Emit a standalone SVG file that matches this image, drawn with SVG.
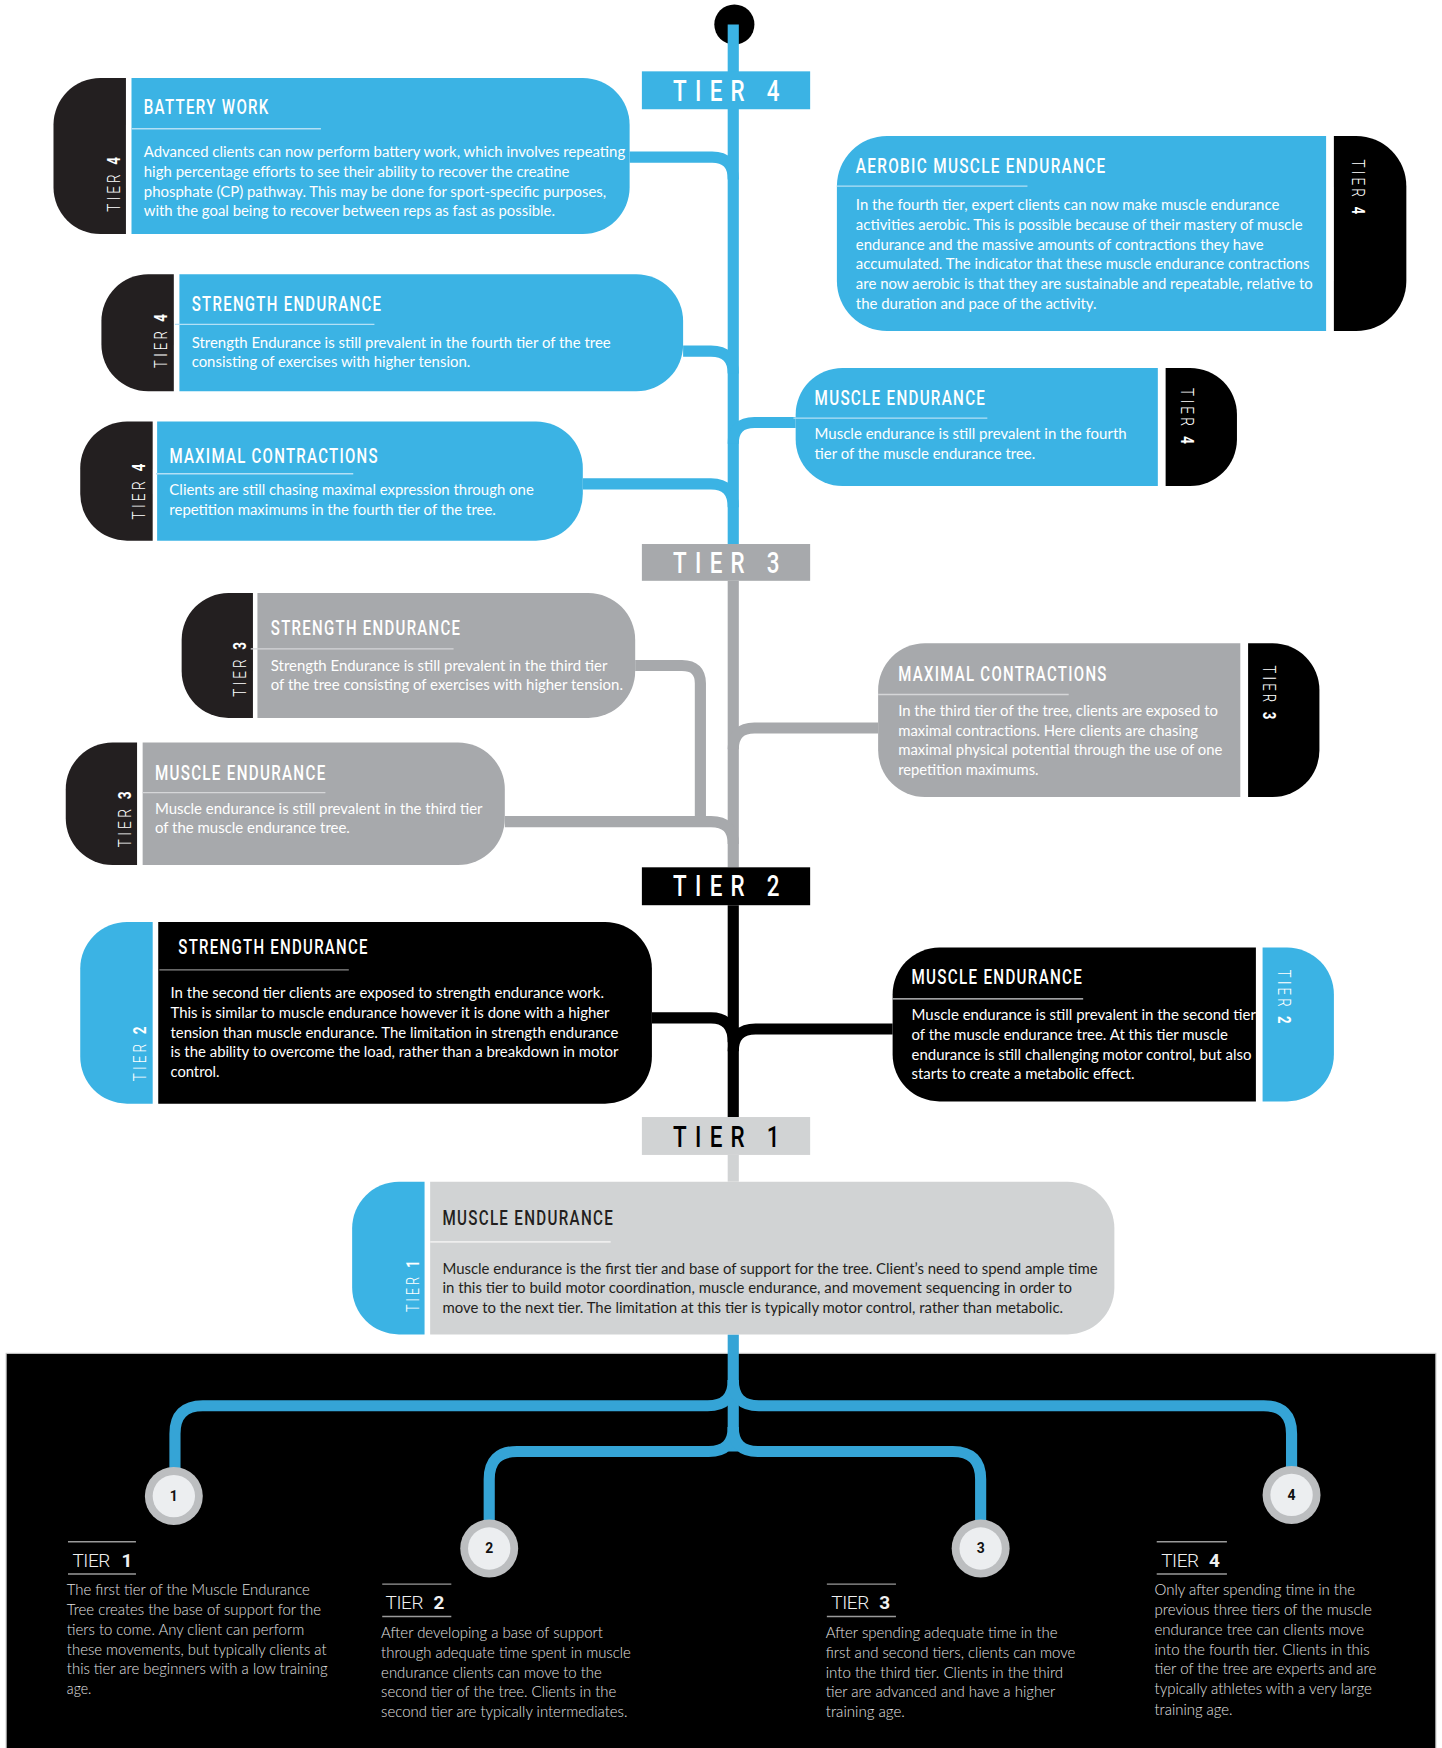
<svg xmlns="http://www.w3.org/2000/svg" width="1442" height="1748" viewBox="0 0 1442 1748">
<defs>
<style>
.title{font-family:Roboto,"DejaVu Sans Condensed",sans-serif;font-weight:500;font-size:17.5px;letter-spacing:1.5px;fill:#fff}
.title.dk{fill:#231f20}
.body{font-family:Lato,"Noto Sans",sans-serif;font-size:13px;fill:#fff}
.body.dk{fill:#231f20}
.tab{font-family:Roboto,"DejaVu Sans",sans-serif;font-weight:300;font-size:17px;letter-spacing:4px;fill:#fff}
.n{font-weight:700}
.tier{font-family:Roboto,"DejaVu Sans Condensed",sans-serif;font-weight:500;font-size:27px;letter-spacing:10px}
.lh{font-family:Roboto,"DejaVu Sans",sans-serif;font-weight:300;font-size:17px;fill:#f0f0f0}
.lhn{font-family:Roboto,"DejaVu Sans",sans-serif;font-weight:700;font-size:17px;fill:#f0f0f0}
.lb{font-family:Lato,"Noto Sans",sans-serif;font-weight:300;font-size:14.5px;fill:#e2e2e2}
.num{font-family:Roboto,"DejaVu Sans",sans-serif;font-weight:700;font-size:12.5px;fill:#111;text-anchor:middle}
.c{fill:none;stroke-width:10}
.blue{fill:#3bb3e4}
.gray{fill:#a7a9ac}
.lgray{fill:#d1d3d4}
.tabk{fill:#231f20}
.blk{fill:#000}
.ulb{stroke:#b3e0f5;stroke-width:1.2}
.ulg{stroke:#d5d6d8;stroke-width:1.2}
.ulk{stroke:#8a8a8a;stroke-width:1.2}
.ull{stroke:#eeeeee;stroke-width:1.5}
.legl{stroke:#9a9a9a;stroke-width:1.3}
.ring{fill:#bcbec0}
.disc{fill:#eceef0}
</style>
</defs>
<rect x="0" y="0" width="1442" height="1748" fill="#fff"/>
<g transform="scale(1.114374,1.114796)">

<g id="background">
<rect x="5.5" y="1214" width="1283" height="360" fill="#000" stroke="#c8c8c8" stroke-width="1"/>
</g>

<g id="connectors">
<circle cx="659" cy="22" r="18" fill="#000"/>
<path class="c" stroke="#3bb3e4" d="M658,22 V488"/>
<path class="c" stroke="#a7a9ac" d="M658,521 V778"/>
<path class="c" stroke="#000" d="M658,812 V1002"/>
<path class="c" stroke="#d1d3d4" d="M658,1036 V1060"/>
<path class="c" stroke="#35a4d6" d="M658,1197 V1302"/>
<path class="c" stroke="#3bb3e4" d="M565,141 H639 Q658,141 658,161"/>
<path class="c" stroke="#3bb3e4" d="M613,315 H638 Q658,315 658,335"/>
<path class="c" stroke="#3bb3e4" d="M658,398 Q658,379 677,379 H714"/>
<path class="c" stroke="#3bb3e4" d="M523,434 H638 Q658,434 658,455"/>
<path class="c" stroke="#a7a9ac" d="M570,597 H612 Q628.5,597 628.5,613 V737"/>
<path class="c" stroke="#a7a9ac" d="M453,737 H638 Q658,737 658,757"/>
<path class="c" stroke="#a7a9ac" d="M658,672 Q658,653 677,653 H788"/>
<path class="c" stroke="#000" d="M585,913 H638 Q658,913 658,935"/>
<path class="c" stroke="#000" d="M658,943 Q658,923 678,923 H801"/>
<path class="c" stroke="#35a4d6" stroke-width="9.5" d="M658,1238 Q658,1261 635,1261 H182 Q157,1261 157,1286 V1320"/>
<path class="c" stroke="#35a4d6" stroke-width="9.5" d="M658,1238 Q658,1261 681,1261 H1134 Q1159,1261 1159,1286 V1320"/>
<path class="c" stroke="#35a4d6" stroke-width="9.5" d="M658,1280 Q658,1302 636,1302 H464 Q439,1302 439,1327 V1367"/>
<path class="c" stroke="#35a4d6" stroke-width="9.5" d="M658,1280 Q658,1302 680,1302 H855 Q880,1302 880,1327 V1367"/>
</g>

<g id="tier4-label"><rect x="576" y="64" width="151" height="34" class="blue"/><text class="tier" x="604" y="91" fill="#fff" textLength="103" lengthAdjust="spacingAndGlyphs">TIER 4</text></g>
<g id="tier3-label"><rect x="576" y="488" width="151" height="33" class="gray"/><text class="tier" x="604" y="514" fill="#fff" textLength="103" lengthAdjust="spacingAndGlyphs">TIER 3</text></g>
<g id="tier2-label"><rect x="576" y="778" width="151" height="34" class="blk"/><text class="tier" x="604" y="804" fill="#fff" textLength="103" lengthAdjust="spacingAndGlyphs">TIER 2</text></g>
<g id="tier1-label"><rect x="576" y="1002" width="151" height="34" class="lgray"/><text class="tier" x="604" y="1029" fill="#000" textLength="103" lengthAdjust="spacingAndGlyphs">TIER 1</text></g>

<g id="node-battery-work">
<path class="tabk" d="M113,70 V210 H90 A42,42 0 0 1 48,168 V112 A42,42 0 0 1 90,70 Z"/>
<path class="blue" d="M118,70 H523 A42,42 0 0 1 565,112 V168 A42,42 0 0 1 523,210 H118 Z"/>
<text class="tab" transform="translate(108,190) rotate(-90)" textLength="52" lengthAdjust="spacingAndGlyphs">TIER <tspan class="n">4</tspan></text>
<text class="title" x="129" y="102" textLength="113" lengthAdjust="spacingAndGlyphs">BATTERY WORK</text>
<line class="ulb" x1="118" y1="115.5" x2="288" y2="115.5"/>
<text class="body" x="129" y="141" textLength="432" lengthAdjust="spacingAndGlyphs">Advanced clients can now perform battery work, which involves repeating</text>
<text class="body" x="129" y="159" textLength="382" lengthAdjust="spacingAndGlyphs">high percentage efforts to see their ability to recover the creatine</text>
<text class="body" x="129" y="177" textLength="415" lengthAdjust="spacingAndGlyphs">phosphate (CP) pathway. This may be done for sport-specific purposes,</text>
<text class="body" x="129" y="194" textLength="369" lengthAdjust="spacingAndGlyphs">with the goal being to recover between reps as fast as possible.</text>
</g>

<g id="node-aerobic-muscle-endurance">
<path class="blue" d="M1190,122 V297 H796 A45,45 0 0 1 751,252 V167 A45,45 0 0 1 796,122 Z"/>
<path class="blk" d="M1197,122 H1217 A45,45 0 0 1 1262,167 V252 A45,45 0 0 1 1217,297 H1197 Z"/>
<text class="tab" transform="translate(1213,143) rotate(90)" textLength="52" lengthAdjust="spacingAndGlyphs">TIER <tspan class="n">4</tspan></text>
<text class="title" x="768" y="155" textLength="225" lengthAdjust="spacingAndGlyphs">AEROBIC MUSCLE ENDURANCE</text>
<line class="ulb" x1="751" y1="167" x2="922" y2="167"/>
<text class="body" x="768" y="188" textLength="380" lengthAdjust="spacingAndGlyphs">In the fourth tier, expert clients can now make muscle endurance</text>
<text class="body" x="768" y="206" textLength="401" lengthAdjust="spacingAndGlyphs">activities aerobic. This is possible because of their mastery of muscle</text>
<text class="body" x="768" y="224" textLength="366" lengthAdjust="spacingAndGlyphs">endurance and the massive amounts of contractions they have</text>
<text class="body" x="768" y="241" textLength="407" lengthAdjust="spacingAndGlyphs">accumulated. The indicator that these muscle endurance contractions</text>
<text class="body" x="768" y="259" textLength="410" lengthAdjust="spacingAndGlyphs">are now aerobic is that they are sustainable and repeatable, relative to</text>
<text class="body" x="768" y="277" textLength="216" lengthAdjust="spacingAndGlyphs">the duration and pace of the activity.</text>
</g>

<g id="node-strength-endurance-t4">
<path class="tabk" d="M156,246 V351 H133 A42,42 0 0 1 91,309 V288 A42,42 0 0 1 133,246 Z"/>
<path class="blue" d="M161,246 H571 A42,42 0 0 1 613,288 V309 A42,42 0 0 1 571,351 H161 Z"/>
<text class="tab" transform="translate(150,330) rotate(-90)" textLength="51" lengthAdjust="spacingAndGlyphs">TIER <tspan class="n">4</tspan></text>
<text class="title" x="172" y="279" textLength="171" lengthAdjust="spacingAndGlyphs">STRENGTH ENDURANCE</text>
<line class="ulb" x1="157" y1="291" x2="336" y2="291"/>
<text class="body" x="172" y="312" textLength="376" lengthAdjust="spacingAndGlyphs">Strength Endurance is still prevalent in the fourth tier of the tree</text>
<text class="body" x="172" y="329" textLength="250" lengthAdjust="spacingAndGlyphs">consisting of exercises with higher tension.</text>
</g>

<g id="node-muscle-endurance-t4">
<path class="blue" d="M1039,330 V436 H756 A42,42 0 0 1 714,394 V372 A42,42 0 0 1 756,330 Z"/>
<path class="blk" d="M1046,330 H1068 A42,42 0 0 1 1110,372 V394 A42,42 0 0 1 1068,436 H1046 Z"/>
<text class="tab" transform="translate(1060,348) rotate(90)" textLength="53" lengthAdjust="spacingAndGlyphs">TIER <tspan class="n">4</tspan></text>
<text class="title" x="731" y="363" textLength="154" lengthAdjust="spacingAndGlyphs">MUSCLE ENDURANCE</text>
<line class="ulb" x1="712" y1="375" x2="886" y2="375"/>
<text class="body" x="731" y="394" textLength="280" lengthAdjust="spacingAndGlyphs">Muscle endurance is still prevalent in the fourth</text>
<text class="body" x="731" y="412" textLength="198" lengthAdjust="spacingAndGlyphs">tier of the muscle endurance tree.</text>
</g>

<g id="node-maximal-contractions-t4">
<path class="tabk" d="M137,378 V485 H114 A42,42 0 0 1 72,443 V420 A42,42 0 0 1 114,378 Z"/>
<path class="blue" d="M141,378 H481 A42,42 0 0 1 523,420 V443 A42,42 0 0 1 481,485 H141 Z"/>
<text class="tab" transform="translate(130,466) rotate(-90)" textLength="53" lengthAdjust="spacingAndGlyphs">TIER <tspan class="n">4</tspan></text>
<text class="title" x="152" y="415" textLength="188" lengthAdjust="spacingAndGlyphs">MAXIMAL CONTRACTIONS</text>
<line class="ulb" x1="140" y1="425" x2="317" y2="425"/>
<text class="body" x="152" y="444" textLength="327" lengthAdjust="spacingAndGlyphs">Clients are still chasing maximal expression through one</text>
<text class="body" x="152" y="462" textLength="293" lengthAdjust="spacingAndGlyphs">repetition maximums in the fourth tier of the tree.</text>
</g>

<g id="node-strength-endurance-t3">
<path class="tabk" d="M227,532 V644 H205 A42,42 0 0 1 163,602 V574 A42,42 0 0 1 205,532 Z"/>
<path class="gray" d="M231,532 H528 A42,42 0 0 1 570,574 V602 A42,42 0 0 1 528,644 H231 Z"/>
<text class="tab" transform="translate(221,625) rotate(-90)" textLength="52" lengthAdjust="spacingAndGlyphs">TIER <tspan class="n">3</tspan></text>
<text class="title" x="243" y="570" textLength="171" lengthAdjust="spacingAndGlyphs">STRENGTH ENDURANCE</text>
<line class="ulg" x1="225" y1="582" x2="407" y2="582"/>
<text class="body" x="243" y="602" textLength="302" lengthAdjust="spacingAndGlyphs">Strength Endurance is still prevalent in the third tier</text>
<text class="body" x="243" y="619" textLength="316" lengthAdjust="spacingAndGlyphs">of the tree consisting of exercises with higher tension.</text>
</g>

<g id="node-muscle-endurance-t3">
<path class="tabk" d="M123,666 V776 H101 A42,42 0 0 1 59,734 V708 A42,42 0 0 1 101,666 Z"/>
<path class="gray" d="M128,666 H411 A42,42 0 0 1 453,708 V734 A42,42 0 0 1 411,776 H128 Z"/>
<text class="tab" transform="translate(118,760) rotate(-90)" textLength="53" lengthAdjust="spacingAndGlyphs">TIER <tspan class="n">3</tspan></text>
<text class="title" x="139" y="700" textLength="154" lengthAdjust="spacingAndGlyphs">MUSCLE ENDURANCE</text>
<line class="ulg" x1="128" y1="711" x2="292" y2="711"/>
<text class="body" x="139" y="730" textLength="294" lengthAdjust="spacingAndGlyphs">Muscle endurance is still prevalent in the third tier</text>
<text class="body" x="139" y="747" textLength="175" lengthAdjust="spacingAndGlyphs">of the muscle endurance tree.</text>
</g>

<g id="node-maximal-contractions-t3">
<path class="gray" d="M1113,577 V715 H830 A42,42 0 0 1 788,673 V619 A42,42 0 0 1 830,577 Z"/>
<path class="blk" d="M1120,577 H1142 A42,42 0 0 1 1184,619 V673 A42,42 0 0 1 1142,715 H1120 Z"/>
<text class="tab" transform="translate(1133,597) rotate(90)" textLength="51" lengthAdjust="spacingAndGlyphs">TIER <tspan class="n">3</tspan></text>
<text class="title" x="806" y="611" textLength="188" lengthAdjust="spacingAndGlyphs">MAXIMAL CONTRACTIONS</text>
<line class="ulg" x1="788" y1="623" x2="959" y2="623"/>
<text class="body" x="806" y="642" textLength="287" lengthAdjust="spacingAndGlyphs">In the third tier of the tree, clients are exposed to</text>
<text class="body" x="806" y="660" textLength="269" lengthAdjust="spacingAndGlyphs">maximal contractions. Here clients are chasing</text>
<text class="body" x="806" y="677" textLength="291" lengthAdjust="spacingAndGlyphs">maximal physical potential through the use of one</text>
<text class="body" x="806" y="695" textLength="126" lengthAdjust="spacingAndGlyphs">repetition maximums.</text>
</g>

<g id="node-strength-endurance-t2">
<path class="blue" d="M137,827 V990 H114 A42,42 0 0 1 72,948 V869 A42,42 0 0 1 114,827 Z"/>
<path class="blk" d="M142,827 H543 A42,42 0 0 1 585,869 V948 A42,42 0 0 1 543,990 H142 Z"/>
<text class="tab" transform="translate(131,970) rotate(-90)" textLength="52" lengthAdjust="spacingAndGlyphs">TIER <tspan class="n">2</tspan></text>
<text class="title" x="160" y="856" textLength="171" lengthAdjust="spacingAndGlyphs">STRENGTH ENDURANCE</text>
<line class="ulk" x1="143" y1="870" x2="313" y2="870"/>
<text class="body" x="153" y="895" textLength="389" lengthAdjust="spacingAndGlyphs">In the second tier clients are exposed to strength endurance work.</text>
<text class="body" x="153" y="913" textLength="394" lengthAdjust="spacingAndGlyphs">This is similar to muscle endurance however it is done with a higher</text>
<text class="body" x="153" y="931" textLength="402" lengthAdjust="spacingAndGlyphs">tension than muscle endurance. The limitation in strength endurance</text>
<text class="body" x="153" y="948" textLength="402" lengthAdjust="spacingAndGlyphs">is the ability to overcome the load, rather than a breakdown in motor</text>
<text class="body" x="153" y="966" textLength="44" lengthAdjust="spacingAndGlyphs">control.</text>
</g>

<g id="node-muscle-endurance-t2">
<path class="blk" d="M1127,850 V988 H843 A42,42 0 0 1 801,946 V892 A42,42 0 0 1 843,850 Z"/>
<path class="blue" d="M1133,850 H1155 A42,42 0 0 1 1197,892 V946 A42,42 0 0 1 1155,988 H1133 Z"/>
<text class="tab" transform="translate(1147,870) rotate(90)" textLength="51" lengthAdjust="spacingAndGlyphs">TIER <tspan class="n">2</tspan></text>
<text class="title" x="818" y="883" textLength="154" lengthAdjust="spacingAndGlyphs">MUSCLE ENDURANCE</text>
<line class="ulg" x1="801" y1="896" x2="972" y2="896"/>
<text class="body" x="818" y="915" textLength="309" lengthAdjust="spacingAndGlyphs">Muscle endurance is still prevalent in the second tier</text>
<text class="body" x="818" y="933" textLength="284" lengthAdjust="spacingAndGlyphs">of the muscle endurance tree. At this tier muscle</text>
<text class="body" x="818" y="951" textLength="305" lengthAdjust="spacingAndGlyphs">endurance is still challenging motor control, but also</text>
<text class="body" x="818" y="968" textLength="200" lengthAdjust="spacingAndGlyphs">starts to create a metabolic effect.</text>
</g>

<g id="node-muscle-endurance-t1">
<path class="blue" d="M381,1060 V1197 H358 A42,42 0 0 1 316,1155 V1102 A42,42 0 0 1 358,1060 Z"/>
<path class="lgray" d="M386,1060 H958 A42,42 0 0 1 1000,1102 V1155 A42,42 0 0 1 958,1197 H386 Z"/>
<text class="tab" transform="translate(376,1177) rotate(-90)" textLength="49" lengthAdjust="spacingAndGlyphs">TIER <tspan class="n">1</tspan></text>
<text class="title dk" x="397" y="1099" textLength="154" lengthAdjust="spacingAndGlyphs">MUSCLE ENDURANCE</text>
<line class="ull" x1="386" y1="1114" x2="548" y2="1114"/>
<text class="body dk" x="397" y="1143" textLength="588" lengthAdjust="spacingAndGlyphs">Muscle endurance is the first tier and base of support for the tree. Client’s need to spend ample time</text>
<text class="body dk" x="397" y="1160" textLength="565" lengthAdjust="spacingAndGlyphs">in this tier to build motor coordination, muscle endurance, and movement sequencing in order to</text>
<text class="body dk" x="397" y="1178" textLength="557" lengthAdjust="spacingAndGlyphs">move to the next tier. The limitation at this tier is typically motor control, rather than metabolic.</text>
</g>

<g id="legend-1">
<circle class="ring" cx="156" cy="1342" r="26"/><circle class="disc" cx="156" cy="1342" r="19"/>
<text class="num" x="156" y="1346.5">1</text>
<line class="legl" x1="61" y1="1383" x2="122" y2="1383"/><line class="legl" x1="61" y1="1412" x2="122" y2="1412"/>
<text class="lh" x="65" y="1406" textLength="34" lengthAdjust="spacing">TIER</text>
<text class="lhn" x="109" y="1406">1</text>
<text class="lb" x="60" y="1431" textLength="218" lengthAdjust="spacingAndGlyphs">The first tier of the Muscle Endurance</text>
<text class="lb" x="60" y="1449" textLength="228" lengthAdjust="spacingAndGlyphs">Tree creates the base of support for the</text>
<text class="lb" x="60" y="1467" textLength="213" lengthAdjust="spacingAndGlyphs">tiers to come. Any client can perform</text>
<text class="lb" x="60" y="1485" textLength="233" lengthAdjust="spacingAndGlyphs">these movements, but typically clients at</text>
<text class="lb" x="60" y="1502" textLength="234" lengthAdjust="spacingAndGlyphs">this tier are beginners with a low training</text>
<text class="lb" x="60" y="1520" textLength="22" lengthAdjust="spacingAndGlyphs">age.</text>
</g>

<g id="legend-2">
<circle class="ring" cx="439" cy="1389" r="26"/><circle class="disc" cx="439" cy="1389" r="19"/>
<text class="num" x="439" y="1393.5">2</text>
<line class="legl" x1="343" y1="1421" x2="405" y2="1421"/><line class="legl" x1="343" y1="1450" x2="405" y2="1450"/>
<text class="lh" x="346" y="1443" textLength="34" lengthAdjust="spacing">TIER</text>
<text class="lhn" x="389" y="1443">2</text>
<text class="lb" x="342" y="1469" textLength="199" lengthAdjust="spacingAndGlyphs">After developing a base of support</text>
<text class="lb" x="342" y="1487" textLength="224" lengthAdjust="spacingAndGlyphs">through adequate time spent in muscle</text>
<text class="lb" x="342" y="1505" textLength="198" lengthAdjust="spacingAndGlyphs">endurance clients can move to the</text>
<text class="lb" x="342" y="1522" textLength="211" lengthAdjust="spacingAndGlyphs">second tier of the tree. Clients in the</text>
<text class="lb" x="342" y="1540" textLength="221" lengthAdjust="spacingAndGlyphs">second tier are typically intermediates.</text>
</g>

<g id="legend-3">
<circle class="ring" cx="880" cy="1389" r="26"/><circle class="disc" cx="880" cy="1389" r="19"/>
<text class="num" x="880" y="1393.5">3</text>
<line class="legl" x1="742" y1="1421" x2="804" y2="1421"/><line class="legl" x1="742" y1="1450" x2="804" y2="1450"/>
<text class="lh" x="746" y="1443" textLength="34" lengthAdjust="spacing">TIER</text>
<text class="lhn" x="789" y="1443">3</text>
<text class="lb" x="741" y="1469" textLength="208" lengthAdjust="spacingAndGlyphs">After spending adequate time in the</text>
<text class="lb" x="741" y="1487" textLength="224" lengthAdjust="spacingAndGlyphs">first and second tiers, clients can move</text>
<text class="lb" x="741" y="1505" textLength="213" lengthAdjust="spacingAndGlyphs">into the third tier. Clients in the third</text>
<text class="lb" x="741" y="1522" textLength="206" lengthAdjust="spacingAndGlyphs">tier are advanced and have a higher</text>
<text class="lb" x="741" y="1540" textLength="71" lengthAdjust="spacingAndGlyphs">training age.</text>
</g>

<g id="legend-4">
<circle class="ring" cx="1159" cy="1341" r="26"/><circle class="disc" cx="1159" cy="1341" r="19"/>
<text class="num" x="1159" y="1345.5">4</text>
<line class="legl" x1="1038" y1="1383" x2="1101" y2="1383"/><line class="legl" x1="1038" y1="1412" x2="1101" y2="1412"/>
<text class="lh" x="1042" y="1406" textLength="34" lengthAdjust="spacing">TIER</text>
<text class="lhn" x="1085" y="1406">4</text>
<text class="lb" x="1036" y="1431" textLength="180" lengthAdjust="spacingAndGlyphs">Only after spending time in the</text>
<text class="lb" x="1036" y="1449" textLength="195" lengthAdjust="spacingAndGlyphs">previous three tiers of the muscle</text>
<text class="lb" x="1036" y="1467" textLength="188" lengthAdjust="spacingAndGlyphs">endurance tree can clients move</text>
<text class="lb" x="1036" y="1485" textLength="193" lengthAdjust="spacingAndGlyphs">into the fourth tier. Clients in this</text>
<text class="lb" x="1036" y="1502" textLength="199" lengthAdjust="spacingAndGlyphs">tier of the tree are experts and are</text>
<text class="lb" x="1036" y="1520" textLength="195" lengthAdjust="spacingAndGlyphs">typically athletes with a very large</text>
<text class="lb" x="1036" y="1538" textLength="70" lengthAdjust="spacingAndGlyphs">training age.</text>
</g>

</g>
</svg>
